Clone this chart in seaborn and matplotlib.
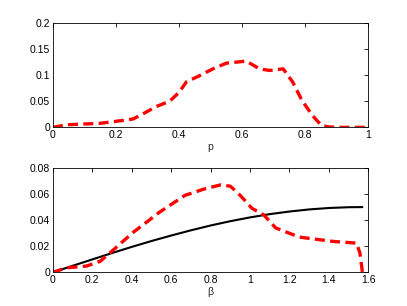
import matplotlib
matplotlib.use("Agg")
import matplotlib.pyplot as plt
import numpy as np
import pandas as pd
import seaborn as sns
from matplotlib.ticker import FormatStrFormatter, FuncFormatter

# top panel: red dashed curve vs p
P_X = [0.0, 0.043, 0.149, 0.2, 0.254, 0.286, 0.328, 0.37, 0.40, 0.423, 0.465,
       0.507, 0.55, 0.592, 0.613, 0.655, 0.687, 0.73, 0.76, 0.79, 0.824, 0.85,
       0.871, 0.9, 1.0]
P_Y = [0.0, 0.005, 0.0077, 0.0115, 0.016, 0.026, 0.040, 0.050, 0.067, 0.087, 0.099,
       0.112, 0.123, 0.1256, 0.127, 0.112, 0.109, 0.112, 0.087, 0.051, 0.022, 0.0045,
       0.001, 0.0, 0.0]

# bottom panel: red dashed curve vs beta
B_X = [0.0, 0.07, 0.17, 0.24, 0.29, 0.35, 0.41, 0.48, 0.54, 0.60, 0.67, 0.77,
       0.85, 0.90, 0.95, 1.01, 1.07, 1.13, 1.25, 1.42, 1.54, 1.557, 1.57]
B_Y = [0.0, 0.0035, 0.0048, 0.0085, 0.015, 0.023, 0.031, 0.039, 0.046, 0.052, 0.059, 0.064,
       0.067, 0.066, 0.059, 0.049, 0.044, 0.034, 0.027, 0.0237, 0.0224, 0.015, 0.0]

# bottom panel: solid black curve vs beta
S_X = [0.0, 0.1, 0.2, 0.3, 0.4, 0.5, 0.6, 0.7, 0.8, 0.9, 1.0, 1.1, 1.2, 1.3,
       1.4, 1.5, 1.57]
S_Y = [0.0, 0.005, 0.0099, 0.0148, 0.0195, 0.024, 0.0282, 0.0322, 0.0359, 0.0392,
       0.0421, 0.0446, 0.0466, 0.0482, 0.0493, 0.0499, 0.05]

sns.set_style("white")
plt.rcParams["font.family"] = ["Liberation Sans", "DejaVu Sans"]
plt.rcParams["font.size"] = 7.5

fmt = FuncFormatter(lambda v, pos: f"{v:g}")


def style_axes(ax):
    for s in ax.spines.values():
        s.set_visible(True)
        s.set_color("black")
        s.set_linewidth(0.6)
    ax.tick_params(direction="in", length=3, width=0.6, top=True, right=True,
                   labelsize=7.5, pad=2, colors="black")
    ax.xaxis.set_major_formatter(fmt)
    ax.yaxis.set_major_formatter(fmt)


fig = plt.figure(figsize=(4.07, 3.06), dpi=100)
ax1 = fig.add_axes([0.13, 0.5838, 0.775, 0.3412])
ax2 = fig.add_axes([0.13, 0.11, 0.775, 0.3412])

top = pd.DataFrame({"p": P_X, "v": P_Y})
sns.lineplot(data=top, x="p", y="v", ax=ax1, color="red", linewidth=2.4,
             dashes=False, linestyle=(0, (3, 1.6)))
ax1.set_xlim(0, 1)
ax1.set_ylim(0, 0.2)
ax1.set_xticks(np.arange(0, 1.01, 0.2))
ax1.set_yticks([0, 0.05, 0.1, 0.15, 0.2])
ax1.set_xlabel("p", labelpad=1)
ax1.set_ylabel("")
style_axes(ax1)

bred = pd.DataFrame({"b": B_X, "v": B_Y})
bblk = pd.DataFrame({"b": S_X, "v": S_Y})
sns.lineplot(data=bblk, x="b", y="v", ax=ax2, color="black", linewidth=1.5)
sns.lineplot(data=bred, x="b", y="v", ax=ax2, color="red", linewidth=2.4,
             linestyle=(0, (3, 1.6)))
ax2.set_xlim(0, 1.6)
ax2.set_ylim(0, 0.08)
ax2.set_xticks(np.arange(0, 1.61, 0.2))
ax2.set_yticks([0, 0.02, 0.04, 0.06, 0.08])
ax2.set_xlabel("β", labelpad=1)
ax2.set_ylabel("")
style_axes(ax2)

fig.savefig("out.png", dpi=100)
